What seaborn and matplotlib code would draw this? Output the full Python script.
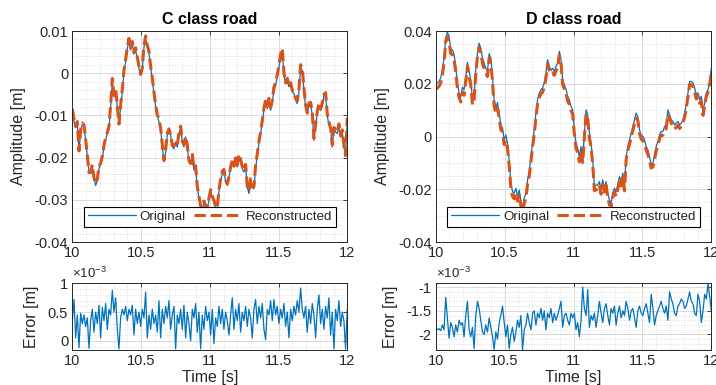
import numpy as np
import pandas as pd
import matplotlib
matplotlib.use('Agg')
import matplotlib.pyplot as plt
import seaborn as sns
from matplotlib.ticker import MultipleLocator, FuncFormatter

# C class road, original profile [mm], 10 s .. 12 s
c_orig_mm = [
    -8.8, -11.5, -12.7, -11.9, -18.3, -13.9, -12.1, -12.7, -15.9, -19.8,
    -23.4, -23.8, -22.2, -25.0, -26.6, -25.4, -22.6, -21.4, -20.2, -17.5,
    -15.9, -14.3, -13.1, -8.0, -2.1, -5.6, -4.4, -8.0, -11.9, -8.0,
    -4.4, 0.3, 2.7, 5.8, 7.7, 5.5, 6.9, 4.7, 5.5, 3.5,
    1.1, -0.5, 0.7, 6.2, 8.0, 6.6, 4.7, 1.5, -1.7, -4.8,
    -8.0, -10.0, -11.5, -13.1, -17.5, -21.0, -18.7, -14.7, -13.9, -14.7,
    -17.5, -17.9, -16.3, -17.5, -14.3, -13.1, -16.3, -17.5, -15.1, -17.5,
    -21.0, -21.4, -19.8, -23.0, -22.6, -27.0, -29.7, -31.3, -32.1, -30.5,
    -32.1, -32.1, -30.1, -27.7, -29.7, -30.1, -32.1, -32.1, -28.1, -25.4,
    -23.8, -23.0, -25.8, -26.6, -24.6, -22.6, -21.4, -22.2, -20.6, -22.2,
    -19.8, -20.6, -22.6, -23.4, -22.2, -27.0, -28.5, -25.4, -27.0, -27.4,
    -22.6, -19.4, -16.7, -14.3, -11.9, -8.4, -6.4, -8.4, -6.4, -8.8,
    -6.8, -4.0, -2.8, -0.9, 1.5, 3.9, 5.5, -0.5, -2.5, -1.7,
    -3.2, -2.8, -4.4, -4.8, -6.4, -7.2, -4.4, 1.1, 0.7, -4.0,
    -8.0, -9.6, -7.6, -7.2, -10.0, -15.9, -12.3, -9.6, -8.0, -8.8,
    -7.6, -5.2, -5.2, -10.0, -12.3, -13.1, -17.5, -12.7, -13.9, -14.3,
    -12.7, -15.1, -13.9, -17.5, -19.4, -11.1]

# C class road, reconstruction error [x1e-3 m]
c_err_e3 = [
    0.35, 0.72, 0.05, 0.45, -0.12, 0.48, 0.30, 0.45, 0.25, 0.40,
    -0.13, 0.35, 0.55, 0.15, 0.50, 0.30, 0.62, 0.05, 0.58, 0.35,
    0.65, 0.20, 0.55, 0.45, 0.88, 0.50, 0.75, 0.20, -0.14, 0.40,
    0.55, 0.45, 0.60, 0.35, 0.55, 0.45, 0.62, 0.10, 0.55, 0.30,
    0.50, 0.25, 0.55, 0.40, 0.85, 0.05, 0.45, 0.20, 0.55, 0.30,
    0.45, 0.15, 0.70, 0.05, 0.55, 0.30, 0.60, 0.40, 0.70, 0.20,
    0.45, 0.60, -0.14, 0.45, 0.30, 0.55, 0.20, 0.62, 0.05, 0.50,
    0.30, 0.00, 0.55, 0.40, 0.65, 0.15, 0.50, -0.14, 0.45, 0.20,
    0.60, 0.35, 0.50, 0.10, 0.55, -0.05, 0.40, 0.25, 0.60, 0.30,
    0.55, 0.20, 0.50, 0.35, 0.10, 0.45, 0.75, 0.20, 0.55, 0.35,
    0.65, 0.15, 0.50, 0.35, 0.60, 0.25, 0.55, 0.40, 0.05, 0.55,
    0.72, 0.30, 0.60, 0.40, 0.65, 0.20, 0.02, 0.55, 0.45, 0.70,
    0.35, 0.72, 0.45, 0.60, 0.30, 0.55, 0.40, 0.65, 0.25, 0.50,
    0.05, 0.55, 0.35, 0.60, 0.45, 0.70, 0.50, 0.92, 0.55, 0.40,
    0.60, 0.15, 0.55, 0.30, 0.65, 0.45, 0.05, 0.55, 0.80, 0.30,
    0.55, 0.20, 0.60, 0.40, 0.75, 0.10, 0.50, -0.14, 0.55, 0.35,
    0.70, 0.25, 0.50, 0.35, -0.14, 0.55]

# D class road, original profile [mm]
d_orig_mm = [
    19.6, 20.3, 20.9, 22.2, 25.3, 29.7, 37.3, 39.5, 38.0, 33.2,
    32.9, 31.0, 26.6, 20.3, 16.5, 14.9, 18.7, 17.7, 22.5, 28.1,
    24.7, 21.5, 13.9, 16.2, 25.3, 31.6, 35.4, 33.5, 29.7, 27.8,
    25.9, 24.7, 31.4, 29.7, 22.8, 13.9, 10.8, 12.9, 8.9, 4.1,
    3.2, -1.3, 0.6, -2.5, -8.9, -17.7, -20.9, -21.5, -19.6, -22.8,
    -20.3, -24.7, -26.8, -23.4, -21.5, -16.5, -13.3, -7.6, -2.5, 2.5,
    8.9, 13.9, 16.5, 17.7, 18.4, 20.3, 24.1, 29.1, 26.6, 25.1,
    25.9, 24.7, 26.6, 27.8, 32.3, 29.1, 21.5, 19.6, 18.0, 15.2,
    13.9, 11.4, 10.1, 2.5, -2.5, -4.4, -7.6, -3.8, -8.9, 1.3,
    10.1, 8.2, 1.3, -2.5, -8.9, -19.0, -18.4, -18.4, -17.1, -20.3,
    -16.5, -19.6, -17.1, -21.5, -24.1, -25.3, -21.5, -19.6, -20.9, -18.4,
    -15.2, -17.1, -13.9, -19.0, -7.6, -3.8, -1.3, 1.3, 3.8, 6.3,
    8.9, 7.6, 2.5, 0.6, 0.0, -1.3, -3.8, -5.1, -7.6, -10.8,
    -10.1, -7.0, -3.8, -1.9, 0.6, 1.9, 1.9, 3.8, 4.4, 10.1,
    8.2, 6.3, 5.7, 4.4, 5.1, 5.7, 4.4, 5.1, 6.3, 8.9,
    12.0, 16.5, 20.9, 20.9, 20.3, 18.4, 15.8, 16.5, 13.9, 15.2,
    9.5, 12.7, 16.5, 17.7, 20.9, 25.9]

# D class road, reconstruction error [x1e-3 m]
d_err_e3 = [
    -1.85, -1.90, -1.88, -1.92, -1.80, -1.90, -1.22, -1.65, -2.08, -1.75,
    -1.85, -2.05, -1.80, -1.95, -1.70, -1.80, -1.75, -2.05, -1.60, -1.30,
    -1.90, -2.05, -1.85, -2.30, -1.60, -1.30, -1.45, -1.70, -1.95, -2.00,
    -1.80, -1.95, -1.65, -1.85, -2.05, -2.32, -1.95, -2.10, -1.75, -1.60,
    -1.40, -1.75, -2.05, -1.80, -2.30, -2.00, -1.85, -2.15, -1.95, -1.70,
    -1.85, -1.60, -2.33, -1.90, -1.80, -1.55, -1.75, -1.90, -1.55, -1.50,
    -1.80, -1.55, -1.65, -1.45, -1.70, -1.50, -1.90, -1.55, -1.65, -1.45,
    -1.75, -1.55, -1.70, -1.60, -1.45, -1.30, -1.85, -1.60, -1.55, -1.70,
    -1.80, -1.55, -1.65, -1.55, -1.90, -1.75, -2.05, -1.70, -1.00, -1.45,
    -1.60, -1.05, -1.85, -1.60, -1.70, -1.55, -1.85, -1.60, -1.30, -1.55,
    -1.75, -1.45, -1.35, -1.60, -1.80, -1.45, -1.55, -1.40, -1.80, -1.55,
    -1.40, -1.65, -1.50, -1.60, -1.30, -1.45, -1.70, -1.50, -1.45, -1.65,
    -1.85, -1.50, -1.40, -1.55, -1.60, -1.45, -1.35, -1.55, -1.75, -1.15,
    -1.45, -1.80, -1.60, -1.50, -1.40, -1.30, -1.45, -1.55, -1.40, -1.70,
    -1.10, -1.25, -1.35, -1.55, -1.60, -1.40, -1.35, -1.25, -1.30, -1.45,
    -1.40, -1.25, -1.10, -1.30, -1.35, -1.55, -1.60, -1.15, -1.30, -1.75,
    -1.50, -1.15, -1.25, -0.92, -1.20, -1.50]

titles = ['C class road', 'D class road']

# to metres, reconstructed = original + error
c_orig = np.array(c_orig_mm) * 1e-3
c_err = np.array(c_err_e3) * 1e-3
c_rec = c_orig + c_err
d_orig = np.array(d_orig_mm) * 1e-3
d_err = np.array(d_err_e3) * 1e-3
d_rec = d_orig + d_err
t_c = np.linspace(10, 12, len(c_orig))
t_d = np.linspace(10, 12, len(d_orig))

BLUE = '#0072BD'
ORANGE = '#D95319'
INK = '#262626'

sns.set_theme(style='whitegrid')
plt.rcParams['font.family'] = ['Liberation Sans', 'DejaVu Sans']
plt.rcParams['mathtext.fontset'] = 'custom'
plt.rcParams['mathtext.rm'] = 'Liberation Sans'

fig = plt.figure(figsize=(7.16, 3.85), dpi=100)
fig.patch.set_facecolor('white')
ax1 = fig.add_axes([0.101, 0.3714, 0.384, 0.548])
ax2 = fig.add_axes([0.6085, 0.3714, 0.385, 0.548])
ax3 = fig.add_axes([0.101, 0.0909, 0.384, 0.173])
ax4 = fig.add_axes([0.6085, 0.0909, 0.385, 0.173])

fmt_g = FuncFormatter(lambda v, p: '%g' % round(v, 6))
fmt_e3 = FuncFormatter(lambda v, p: '%g' % round(v * 1e3, 6))


def style_ax(ax):
    ax.set_facecolor('white')
    for s in ax.spines.values():
        s.set_visible(True)
        s.set_color(INK)
        s.set_linewidth(0.7)
    ax.tick_params(which='major', direction='in', length=3, width=0.6,
                   colors=INK, labelsize=10.5, top=True, right=True,
                   labeltop=False, labelright=False, pad=3)
    ax.tick_params(which='minor', length=0)
    ax.grid(True, which='major', color='#dadada', lw=0.7, ls='-')
    ax.grid(True, which='minor', color='#d2d2d2', lw=0.6, ls=(0, (1, 2)))
    ax.set_axisbelow(True)
    ax.set_xlim(10, 12)
    ax.xaxis.set_major_locator(MultipleLocator(0.5))
    ax.xaxis.set_minor_locator(MultipleLocator(0.1))
    ax.xaxis.set_major_formatter(fmt_g)


# top: signals
for ax, t, orig, rec, title, ylim, ymaj, ymin in [
        (ax1, t_c, c_orig, c_rec, titles[0], (-0.04, 0.01), 0.01, 0.002),
        (ax2, t_d, d_orig, d_rec, titles[1], (-0.04, 0.04), 0.02, 0.005)]:
    style_ax(ax)
    sns.lineplot(x=t, y=orig, ax=ax, color=BLUE, lw=0.9, label='Original',
                 sort=False, estimator=None)
    sns.lineplot(x=t, y=rec, ax=ax, color=ORANGE, lw=2.2, ls='--',
                 label='Reconstructed', sort=False, estimator=None)
    ax.set_ylim(*ylim)
    ax.yaxis.set_major_locator(MultipleLocator(ymaj))
    ax.yaxis.set_minor_locator(MultipleLocator(ymin))
    ax.yaxis.set_major_formatter(fmt_g)
    ax.set_title(title, fontsize=11.5, fontweight='bold', color='black', pad=5)
    ax.set_ylabel('Amplitude [m]', fontsize=11.5, color=INK, labelpad=6)
    ax.set_xlabel('')
    leg = ax.legend(loc='lower center', bbox_to_anchor=(0.5, 0.04), ncol=2,
                    frameon=True, fancybox=False, framealpha=1,
                    edgecolor='black', fontsize=9.6, handlelength=3.6,
                    handletextpad=0.3, columnspacing=0.6, borderpad=0.3)
    leg.get_frame().set_linewidth(0.8)
    for txt in leg.get_texts():
        txt.set_color(INK)

# bottom: errors
for ax, t, err, ylim, ticks in [
        (ax3, t_c, c_err, (-0.16e-3, 1.0e-3), [0, 0.5e-3, 1e-3]),
        (ax4, t_d, d_err, (-2.33e-3, -0.92e-3), [-2e-3, -1.5e-3, -1e-3])]:
    style_ax(ax)
    sns.lineplot(x=t, y=err, ax=ax, color=BLUE, lw=0.9, sort=False,
                 estimator=None)
    ax.set_ylim(*ylim)
    ax.set_yticks(ticks)
    ax.yaxis.set_minor_locator(MultipleLocator(0.1e-3))
    ax.yaxis.set_major_formatter(fmt_e3)
    ax.set_ylabel('Error [m]', fontsize=11.5, color=INK, labelpad=6)
    ax.set_xlabel('Time [s]', fontsize=11.5, color=INK, labelpad=1)
    ax.text(0.0, 1.03, r'$\times\mathregular{10^{-3}}$', transform=ax.transAxes,
            fontsize=9.5, color=INK, ha='left', va='bottom')

fig.savefig('out.png', dpi=100, facecolor='white')
